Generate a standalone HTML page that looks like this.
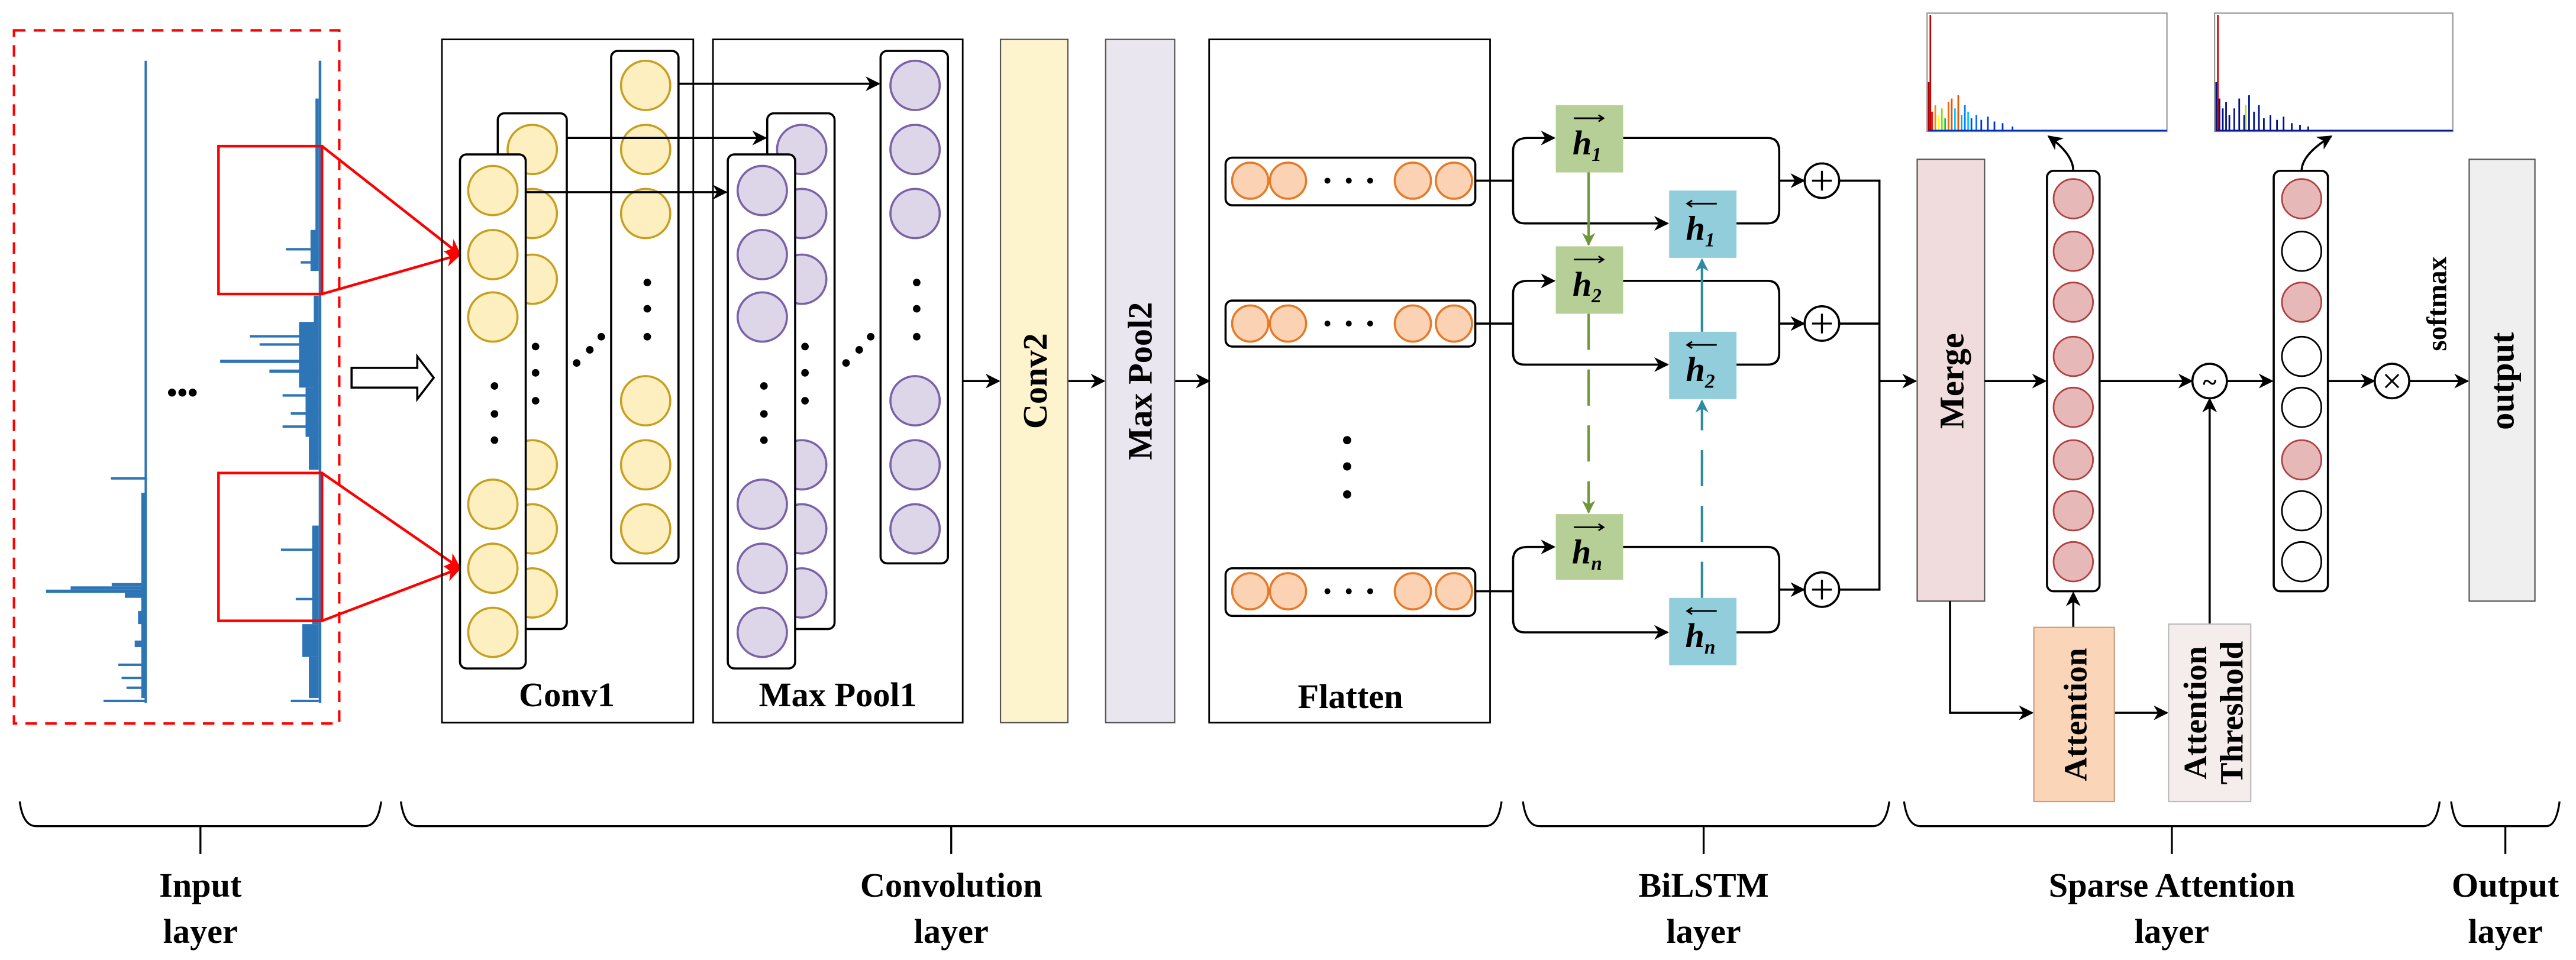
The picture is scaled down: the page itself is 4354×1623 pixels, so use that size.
<!DOCTYPE html>
<html><head><meta charset="utf-8"><style>
html,body{margin:0;padding:0;background:#fff;}
svg{display:block;}
svg text{font-family:"Liberation Serif","DejaVu Serif",serif !important;font-weight:bold;fill:#000;}
</style></head><body>
<svg width="4354" height="1623" viewBox="0 0 1568 584.5" preserveAspectRatio="none" xmlns="http://www.w3.org/2000/svg" font-family="Liberation Serif, serif" font-weight="bold">
<defs>
<marker id="a" viewBox="0 0 10 10" refX="9" refY="5" markerWidth="9" markerHeight="9" orient="auto" markerUnits="userSpaceOnUse"><path d="M0,0 L10,5 L0,10 L3,5 z" fill="#000"/></marker>
<marker id="ar" viewBox="0 0 10 10" refX="9" refY="5" markerWidth="10" markerHeight="10" orient="auto" markerUnits="userSpaceOnUse"><path d="M0,0 L10,5 L0,10 L3,5 z" fill="#f00"/></marker>
<marker id="ag" viewBox="0 0 10 10" refX="9" refY="5" markerWidth="8" markerHeight="8" orient="auto" markerUnits="userSpaceOnUse"><path d="M0,0 L10,5 L0,10 L3,5 z" fill="#70963a"/></marker>
<marker id="ab" viewBox="0 0 10 10" refX="9" refY="5" markerWidth="8" markerHeight="8" orient="auto" markerUnits="userSpaceOnUse"><path d="M0,0 L10,5 L0,10 L3,5 z" fill="#2e8aa0"/></marker>
</defs>

<!-- INPUT -->
<rect x="8.5" y="18.5" width="198" height="422" fill="none" stroke="#f00" stroke-width="1.5" stroke-dasharray="7,5"/>
<g fill="#2e75b6" stroke="none">
<rect x="88" y="37" width="1.4" height="391"/>
<rect x="28" y="359" width="61" height="2"/>
<rect x="43" y="357" width="46" height="2"/>
<rect x="68" y="355" width="21" height="2"/>
<rect x="67.5" y="290.5" width="22" height="1.5"/>
<rect x="76" y="361" width="13" height="3"/>
<rect x="86" y="300" width="3" height="125"/>
<rect x="84" y="372" width="5" height="8"/>
<rect x="82" y="390" width="7" height="4"/>
<rect x="72" y="404" width="17" height="1.5"/>
<rect x="74" y="412" width="15" height="1.5"/>
<rect x="77" y="418" width="12" height="1.5"/>
<rect x="63" y="426" width="26" height="1.5"/>
<rect x="194" y="37" width="1.6" height="391"/>
<rect x="192" y="60" width="2" height="100"/>
<rect x="174" y="151" width="20" height="1.5"/>
<rect x="183" y="159" width="11" height="1.5"/>
<rect x="189" y="140" width="5" height="25"/>
<rect x="191" y="180" width="3" height="100"/>
<rect x="152" y="204" width="42" height="1.5"/>
<rect x="158" y="209" width="36" height="1.5"/>
<rect x="134" y="219" width="60" height="2"/>
<rect x="164" y="225" width="30" height="2"/>
<rect x="182" y="196" width="12" height="40"/>
<rect x="186" y="236" width="8" height="30"/>
<rect x="172" y="240" width="22" height="1.5"/>
<rect x="177" y="251" width="17" height="1.5"/>
<rect x="172" y="259" width="22" height="1.5"/>
<rect x="188" y="266" width="6" height="20"/>
<rect x="171" y="334" width="23" height="1.5"/>
<rect x="190" y="320" width="4" height="60"/>
<rect x="180" y="364" width="14" height="1.5"/>
<rect x="184" y="380" width="10" height="20"/>
<rect x="188" y="400" width="6" height="25"/>
<rect x="177" y="426" width="17" height="1.5"/>
</g>
<text x="111" y="245" font-size="18" text-anchor="middle">•••</text>
<g fill="none" stroke="#f00" stroke-width="1.6">
<rect x="133" y="89" width="63" height="90"/>
<rect x="133" y="288" width="63" height="90"/>
<line x1="196" y1="89" x2="280" y2="155" marker-end="url(#ar)"/>
<line x1="196" y1="179" x2="280" y2="155" marker-end="url(#ar)"/>
<line x1="196" y1="288" x2="280" y2="346" marker-end="url(#ar)"/>
<line x1="196" y1="378" x2="280" y2="346" marker-end="url(#ar)"/>
</g>
<path d="M214,224 H254 V217 L264,230 L254,243 V236 H214 Z" fill="#fff" stroke="#000" stroke-width="1.3"/>

<!-- CONV1 -->
<rect x="269" y="24" width="153" height="416" fill="none" stroke="#000" stroke-width="1"/>
<rect x="434" y="24" width="152" height="416" fill="none" stroke="#000" stroke-width="1"/>
<g stroke-width="1.3">
<rect x="372" y="31" width="41" height="312" rx="4" fill="#fff" stroke="#000"/>
<g fill="#fdefc0" stroke="#c8a020"><circle cx="393" cy="52" r="15"/><circle cx="393" cy="91" r="15"/><circle cx="393" cy="130" r="15"/><circle cx="393" cy="244" r="15"/><circle cx="393" cy="283" r="15"/><circle cx="393" cy="322" r="15"/></g>
<rect x="303" y="69" width="42" height="314" rx="4" fill="#fff" stroke="#000"/>
<g fill="#fdefc0" stroke="#c8a020"><circle cx="324" cy="91" r="15"/><circle cx="324" cy="130" r="15"/><circle cx="324" cy="170" r="15"/><circle cx="324" cy="283" r="15"/><circle cx="324" cy="322" r="15"/><circle cx="324" cy="361" r="15"/></g>
<rect x="280" y="94" width="40" height="313" rx="4" fill="#fff" stroke="#000"/>
<g fill="#fdefc0" stroke="#c8a020"><circle cx="300" cy="116" r="15"/><circle cx="300" cy="155" r="15"/><circle cx="300" cy="193" r="15"/><circle cx="300" cy="307" r="15"/><circle cx="300" cy="346" r="15"/><circle cx="300" cy="385" r="15"/></g>
<rect x="536" y="31" width="41" height="312" rx="4" fill="#fff" stroke="#000"/>
<g fill="#ddd6e8" stroke="#7a62a8"><circle cx="557" cy="52" r="15"/><circle cx="557" cy="91" r="15"/><circle cx="557" cy="130" r="15"/><circle cx="557" cy="244" r="15"/><circle cx="557" cy="283" r="15"/><circle cx="557" cy="322" r="15"/></g>
<rect x="467" y="69" width="41" height="314" rx="4" fill="#fff" stroke="#000"/>
<g fill="#ddd6e8" stroke="#7a62a8"><circle cx="488" cy="91" r="15"/><circle cx="488" cy="130" r="15"/><circle cx="488" cy="170" r="15"/><circle cx="488" cy="283" r="15"/><circle cx="488" cy="322" r="15"/><circle cx="488" cy="361" r="15"/></g>
<rect x="443" y="94" width="41" height="313" rx="4" fill="#fff" stroke="#000"/>
<g fill="#ddd6e8" stroke="#7a62a8"><circle cx="464" cy="116" r="15"/><circle cx="464" cy="155" r="15"/><circle cx="464" cy="193" r="15"/><circle cx="464" cy="307" r="15"/><circle cx="464" cy="346" r="15"/><circle cx="464" cy="385" r="15"/></g>
</g>
<g fill="#000">
<circle cx="301" cy="235" r="2.3"/><circle cx="301" cy="252" r="2.3"/><circle cx="301" cy="268" r="2.3"/>
<circle cx="326" cy="211" r="2.3"/><circle cx="326" cy="227" r="2.3"/><circle cx="326" cy="244" r="2.3"/>
<circle cx="394" cy="172" r="2.3"/><circle cx="394" cy="188" r="2.3"/><circle cx="394" cy="205" r="2.3"/>
<circle cx="351" cy="221" r="2.3"/><circle cx="359" cy="213" r="2.3"/><circle cx="366" cy="205" r="2.3"/>
<circle cx="465" cy="235" r="2.3"/><circle cx="465" cy="252" r="2.3"/><circle cx="465" cy="268" r="2.3"/>
<circle cx="490" cy="211" r="2.3"/><circle cx="490" cy="227" r="2.3"/><circle cx="490" cy="244" r="2.3"/>
<circle cx="558" cy="172" r="2.3"/><circle cx="558" cy="188" r="2.3"/><circle cx="558" cy="205" r="2.3"/>
<circle cx="515" cy="221" r="2.3"/><circle cx="523" cy="213" r="2.3"/><circle cx="530" cy="205" r="2.3"/>
</g>
<g stroke="#000" stroke-width="1.3" fill="none">
<line x1="413" y1="51" x2="535" y2="51" marker-end="url(#a)"/>
<line x1="345" y1="84" x2="466" y2="84" marker-end="url(#a)"/>
<line x1="320" y1="117" x2="442" y2="117" marker-end="url(#a)"/>
<line x1="586" y1="232" x2="608" y2="232" marker-end="url(#a)"/>
<line x1="650" y1="232" x2="672" y2="232" marker-end="url(#a)"/>
<line x1="715" y1="232" x2="736" y2="232" marker-end="url(#a)"/>
</g>
<text x="345" y="430" font-size="21" text-anchor="middle">Conv1</text>
<text x="510" y="430" font-size="21" text-anchor="middle">Max Pool1</text>

<rect x="609" y="24" width="41" height="416" fill="#fdf3cc" stroke="#555" stroke-width="0.8"/>
<text transform="translate(637,232) rotate(-90)" font-size="21" text-anchor="middle">Conv2</text>
<rect x="673" y="24" width="42" height="416" fill="#e9e6f0" stroke="#555" stroke-width="0.8"/>
<text transform="translate(701,232) rotate(-90)" font-size="21" text-anchor="middle">Max Pool2</text>

<!-- FLATTEN -->
<rect x="736" y="24" width="171" height="416" fill="none" stroke="#000" stroke-width="1"/>
<g stroke-width="1.3">
<rect x="746" y="96" width="152" height="29" rx="4" fill="#fff" stroke="#000"/>
<rect x="746" y="183" width="152" height="28" rx="4" fill="#fff" stroke="#000"/>
<rect x="746" y="346" width="152" height="29" rx="4" fill="#fff" stroke="#000"/>
<g fill="#fbd3b4" stroke="#e57a28">
<circle cx="761" cy="110" r="11"/><circle cx="784" cy="110" r="11"/><circle cx="860" cy="110" r="11"/><circle cx="885" cy="110" r="11"/>
<circle cx="761" cy="197" r="11"/><circle cx="784" cy="197" r="11"/><circle cx="860" cy="197" r="11"/><circle cx="885" cy="197" r="11"/>
<circle cx="761" cy="360" r="11"/><circle cx="784" cy="360" r="11"/><circle cx="860" cy="360" r="11"/><circle cx="885" cy="360" r="11"/>
</g></g>
<g fill="#000">
<circle cx="808" cy="110" r="1.8"/><circle cx="821" cy="110" r="1.8"/><circle cx="834" cy="110" r="1.8"/>
<circle cx="808" cy="197" r="1.8"/><circle cx="821" cy="197" r="1.8"/><circle cx="834" cy="197" r="1.8"/>
<circle cx="808" cy="360" r="1.8"/><circle cx="821" cy="360" r="1.8"/><circle cx="834" cy="360" r="1.8"/>
<circle cx="820" cy="268" r="2.5"/><circle cx="820" cy="284" r="2.5"/><circle cx="820" cy="301" r="2.5"/>
</g>
<text x="822" y="431" font-size="21" text-anchor="middle">Flatten</text>

<!-- BiLSTM -->
<g stroke="#000" stroke-width="1.3" fill="none">
<path d="M898,110 H921"/><path d="M898,197 H921"/><path d="M898,360 H921"/>
<path d="M921,92 V128 Q921,136 928,136 H1015" marker-end="url(#a)"/>
<path d="M921,92 Q921,84 930,84 H946" marker-end="url(#a)"/>
<path d="M921,179 V215 Q921,222 928,222 H1015" marker-end="url(#a)"/>
<path d="M921,179 Q921,171 930,171 H946" marker-end="url(#a)"/>
<path d="M921,341 Q921,333 930,333 H946" marker-end="url(#a)"/>
<path d="M921,341 V377 Q921,385 928,385 H1015" marker-end="url(#a)"/>
<path d="M988,84 H1076 Q1083,84 1083,92 V128 Q1083,136 1076,136 H1057"/>
<path d="M1083,110 H1098" marker-end="url(#a)"/>
<path d="M988,171 H1076 Q1083,171 1083,179 V215 Q1083,222 1076,222 H1057"/>
<path d="M1083,197 H1098" marker-end="url(#a)"/>
<path d="M988,333 H1076 Q1083,333 1083,341 V377 Q1083,385 1076,385 H1057"/>
<path d="M1083,359 H1098" marker-end="url(#a)"/>
<path d="M1120,110 H1144 V359 H1120"/>
<path d="M1120,197 H1144"/>
<path d="M1144,232 H1166" marker-end="url(#a)"/>
</g>
<g stroke="#70963a" stroke-width="1.5" fill="none">
<line x1="967" y1="105" x2="967" y2="149" marker-end="url(#ag)"/>
<line x1="967" y1="191" x2="967" y2="312" stroke-dasharray="22,12" marker-end="url(#ag)"/>
</g>
<g stroke="#2e8aa0" stroke-width="1.5" fill="none">
<line x1="1036" y1="202" x2="1036" y2="158" marker-end="url(#ab)"/>
<line x1="1036" y1="364" x2="1036" y2="244" stroke-dasharray="22,12" marker-end="url(#ab)"/>
</g>
<g fill="#b5cf96"><rect x="947" y="64" width="41" height="41"/><rect x="947" y="150" width="41" height="41"/><rect x="947" y="313" width="41" height="40"/></g>
<g fill="#92cddc"><rect x="1016" y="116" width="41" height="41"/><rect x="1016" y="202" width="41" height="41"/><rect x="1016" y="364" width="41" height="41"/></g>
<g font-size="21" font-style="italic" text-anchor="middle">
<text x="966" y="94">h<tspan font-size="12" dy="4">1</tspan></text>
<text x="966" y="180">h<tspan font-size="12" dy="4">2</tspan></text>
<text x="966" y="343">h<tspan font-size="12" dy="4">n</tspan></text>
<text x="1035" y="146">h<tspan font-size="12" dy="4">1</tspan></text>
<text x="1035" y="232">h<tspan font-size="12" dy="4">2</tspan></text>
<text x="1035" y="394">h<tspan font-size="12" dy="4">n</tspan></text>
</g>
<g stroke="#000" stroke-width="1" fill="none">
<path d="M958,72 H976 M973,70 L976,72 L973,74"/>
<path d="M958,158 H976 M973,156 L976,158 L973,160"/>
<path d="M958,321 H976 M973,319 L976,321 L973,323"/>
<path d="M1027,124 H1045 M1030,122 L1027,124 L1030,126"/>
<path d="M1027,210 H1045 M1030,208 L1027,210 L1030,212"/>
<path d="M1027,372 H1045 M1030,370 L1027,372 L1030,374"/>
</g>
<g stroke="#000" stroke-width="1.3" fill="#fff">
<circle cx="1109" cy="110" r="10.5"/><circle cx="1109" cy="197" r="10.5"/><circle cx="1109" cy="359" r="10.5"/>
</g>
<g stroke="#000" stroke-width="1.2">
<path d="M1103,110 H1115 M1109,104 V116"/><path d="M1103,197 H1115 M1109,191 V203"/><path d="M1103,359 H1115 M1109,353 V365"/>
</g>

<!-- SPARSE ATTENTION -->
<rect x="1167" y="97" width="41" height="269" fill="#f0dcdc" stroke="#555" stroke-width="0.8"/>
<text transform="translate(1195,232) rotate(-90)" font-size="21" text-anchor="middle">Merge</text>
<g stroke="#000" stroke-width="1.3" fill="none">
<line x1="1208" y1="232" x2="1245" y2="232" marker-end="url(#a)"/>
<line x1="1278" y1="232" x2="1334" y2="232" marker-end="url(#a)"/>
<line x1="1356" y1="232" x2="1383" y2="232" marker-end="url(#a)"/>
<line x1="1417" y1="232" x2="1445" y2="232" marker-end="url(#a)"/>
<line x1="1467" y1="232" x2="1502" y2="232" marker-end="url(#a)"/>
<path d="M1187,366 V434 H1237" marker-end="url(#a)"/>
<line x1="1287" y1="434" x2="1319" y2="434" marker-end="url(#a)"/>
<line x1="1262" y1="382" x2="1262" y2="361" marker-end="url(#a)"/>
<line x1="1345" y1="380" x2="1345" y2="243" marker-end="url(#a)"/>
<path d="M1262,104 Q1262,94 1247,83" marker-end="url(#a)"/>
<path d="M1401,104 Q1401,94 1419,83" marker-end="url(#a)"/>
</g>
<rect x="1246" y="104" width="32" height="256" rx="4" fill="#fff" stroke="#000" stroke-width="1.3"/>
<g fill="#e6b8b8" stroke="#b04040" stroke-width="1">
<circle cx="1262" cy="121" r="12"/><circle cx="1262" cy="153" r="12"/><circle cx="1262" cy="184" r="12"/><circle cx="1262" cy="217" r="12"/><circle cx="1262" cy="248" r="12"/><circle cx="1262" cy="280" r="12"/><circle cx="1262" cy="311" r="12"/><circle cx="1262" cy="342" r="12"/>
</g>
<rect x="1384" y="104" width="33" height="256" rx="4" fill="#fff" stroke="#000" stroke-width="1.3"/>
<g stroke="#000" stroke-width="1">
<circle cx="1401" cy="121" r="12" fill="#e6b8b8" stroke="#b04040"/><circle cx="1401" cy="153" r="12" fill="#fff"/><circle cx="1401" cy="184" r="12" fill="#e6b8b8" stroke="#b04040"/><circle cx="1401" cy="217" r="12" fill="#fff"/><circle cx="1401" cy="248" r="12" fill="#fff"/><circle cx="1401" cy="280" r="12" fill="#e6b8b8" stroke="#b04040"/><circle cx="1401" cy="311" r="12" fill="#fff"/><circle cx="1401" cy="342" r="12" fill="#fff"/>
</g>
<rect x="1238" y="382" width="49" height="106" fill="#fbd5b8" stroke="#c8a080" stroke-width="0.8"/>
<text transform="translate(1270,435) rotate(-90)" font-size="20" text-anchor="middle">Attention</text>
<rect x="1320" y="380" width="50" height="108" fill="#f5ecec" stroke="#bbb" stroke-width="0.8"/>
<text transform="translate(1343,434) rotate(-90)" font-size="20" text-anchor="middle">Attention</text>
<text transform="translate(1365,434) rotate(-90)" font-size="20" text-anchor="middle">Threshold</text>
<g stroke="#000" stroke-width="1.3" fill="#fff"><circle cx="1345" cy="232" r="10.5"/><circle cx="1456" cy="232" r="10.5"/></g>
<text x="1345" y="238" font-size="16" text-anchor="middle" font-weight="normal">~</text>
<path d="M1452,228 L1460,236 M1460,228 L1452,236" stroke="#000" stroke-width="1.1"/>
<text transform="translate(1489,185) rotate(-90)" font-size="17" text-anchor="middle">softmax</text>
<rect x="1503" y="97" width="40" height="269" fill="#efefef" stroke="#555" stroke-width="0.8"/>
<text transform="translate(1530,232) rotate(-90)" font-size="21" text-anchor="middle">output</text>

<!-- histograms -->
<rect x="1173" y="8" width="146" height="72" fill="#fff" stroke="#999" stroke-width="0.8"/>
<line x1="1175" y1="9" x2="1175" y2="80" stroke="#c00" stroke-width="1"/>
<g stroke-width="1">
<line x1="1174" y1="80" x2="1174" y2="50" stroke="#a00"/>
<line x1="1176" y1="80" x2="1176" y2="68" stroke="#e00"/>
<line x1="1178" y1="80" x2="1178" y2="64" stroke="#f80"/>
<line x1="1180" y1="80" x2="1180" y2="70" stroke="#ff0"/>
<line x1="1182" y1="80" x2="1182" y2="66" stroke="#8d0"/>
<line x1="1184" y1="80" x2="1184" y2="72" stroke="#0c4"/>
<line x1="1186" y1="80" x2="1186" y2="62" stroke="#f60"/>
<line x1="1188" y1="80" x2="1188" y2="60" stroke="#f40"/>
<line x1="1190" y1="80" x2="1190" y2="66" stroke="#0cf"/>
<line x1="1192" y1="80" x2="1192" y2="58" stroke="#e50"/>
<line x1="1194" y1="80" x2="1194" y2="70" stroke="#0af"/>
<line x1="1196" y1="80" x2="1196" y2="64" stroke="#07f"/>
<line x1="1198" y1="80" x2="1198" y2="68" stroke="#0cf"/>
<line x1="1200" y1="80" x2="1200" y2="72" stroke="#04f"/>
<line x1="1203" y1="80" x2="1203" y2="70" stroke="#06f"/>
<line x1="1206" y1="80" x2="1206" y2="73" stroke="#03c"/>
<line x1="1210" y1="80" x2="1210" y2="71" stroke="#03c"/>
<line x1="1214" y1="80" x2="1214" y2="74" stroke="#03c"/>
<line x1="1219" y1="80" x2="1219" y2="75" stroke="#03c"/>
<line x1="1225" y1="80" x2="1225" y2="77" stroke="#03c"/>
</g>
<line x1="1174" y1="79.5" x2="1319" y2="79.5" stroke="#03a" stroke-width="1"/>
<rect x="1348" y="8" width="145" height="72" fill="#fff" stroke="#999" stroke-width="0.8"/>
<line x1="1350" y1="9" x2="1350" y2="80" stroke="#c00" stroke-width="1"/>
<g stroke="#00108a" stroke-width="1">
<line x1="1349" y1="80" x2="1349" y2="50"/><line x1="1351" y1="80" x2="1351" y2="60"/><line x1="1353" y1="80" x2="1353" y2="66"/><line x1="1355" y1="80" x2="1355" y2="62"/><line x1="1357" y1="80" x2="1357" y2="70"/><line x1="1360" y1="80" x2="1360" y2="66"/><line x1="1363" y1="80" x2="1363" y2="60"/><line x1="1366" y1="80" x2="1366" y2="70"/><line x1="1369" y1="80" x2="1369" y2="58"/><line x1="1372" y1="80" x2="1372" y2="68"/><line x1="1375" y1="80" x2="1375" y2="64"/><line x1="1378" y1="80" x2="1378" y2="72"/><line x1="1382" y1="80" x2="1382" y2="70"/><line x1="1386" y1="80" x2="1386" y2="73"/><line x1="1390" y1="80" x2="1390" y2="71"/><line x1="1395" y1="80" x2="1395" y2="75"/><line x1="1400" y1="80" x2="1400" y2="76"/><line x1="1405" y1="80" x2="1405" y2="77"/>
</g>
<line x1="1367" y1="80" x2="1367" y2="64" stroke="#bd3" stroke-width="1"/>
<line x1="1349" y1="79.5" x2="1493" y2="79.5" stroke="#0a1a8a" stroke-width="1"/>

<!-- BRACES -->
<g stroke="#000" stroke-width="1.2" fill="none">
<path d="M12,488 Q14,503 22,503 H222 Q230,503 232,488 M122,503 V520"/>
<path d="M244,488 Q246,503 254,503 H904 Q912,503 914,488 M579,503 V520"/>
<path d="M927,488 Q929,503 937,503 H1140 Q1148,503 1150,488 M1037,503 V520"/>
<path d="M1159,488 Q1161,503 1169,503 H1475 Q1483,503 1485,488 M1322,503 V520"/>
<path d="M1492,488 Q1494,503 1500,503 H1550 Q1556,503 1558,488 M1525,503 V520"/>
</g>
<g font-size="21" text-anchor="middle">
<text x="122" y="546">Input</text><text x="122" y="574">layer</text>
<text x="579" y="546">Convolution</text><text x="579" y="574">layer</text>
<text x="1037" y="546">BiLSTM</text><text x="1037" y="574">layer</text>
<text x="1322" y="546">Sparse Attention</text><text x="1322" y="574">layer</text>
<text x="1525" y="546">Output</text><text x="1525" y="574">layer</text>
</g>
</svg>
</body></html>
